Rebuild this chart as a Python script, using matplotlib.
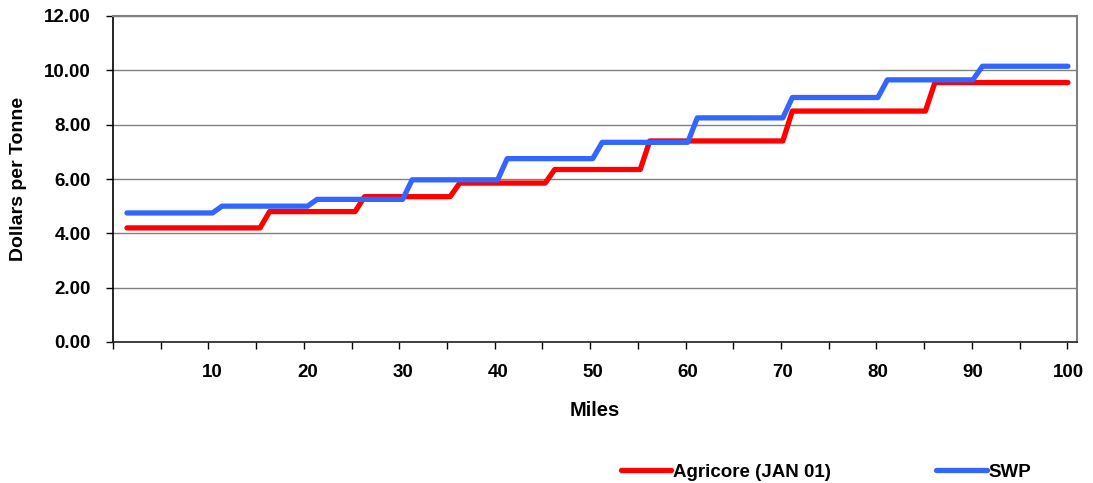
import numpy as np
import matplotlib
matplotlib.use("Agg")
import matplotlib.pyplot as plt
from matplotlib.ticker import FixedLocator

plt.rcParams['font.family'] = ['Liberation Sans', 'DejaVu Sans']
plt.rcParams['font.weight'] = 'bold'

# miles 1..100
miles = list(range(1, 101))

# Agricore (JAN 01) - step levels (rate, number of miles at that rate)
agricore_levels = [4.20, 4.80, 5.35, 5.85, 6.35, 7.40, 8.50, 9.55]
agricore_counts = [15, 10, 10, 10, 10, 15, 15, 15]

# SWP
swp_levels = [4.75, 5.00, 5.25, 5.97, 6.75, 7.35, 8.25, 9.00, 9.65, 10.15]
swp_counts = [10, 10, 10, 10, 10, 10, 10, 10, 10, 10]

agricore = np.repeat(agricore_levels, agricore_counts)
swp = np.repeat(swp_levels, swp_counts)

x_labels = [10, 20, 30, 40, 50, 60, 70, 80, 90, 100]
y_ticks = [0, 2, 4, 6, 8, 10, 12]

fig = plt.figure(figsize=(10.93, 4.83), dpi=100)
ax = fig.add_axes([113 / 1093, 1 - 342 / 483, (1077 - 113) / 1093, (342 - 16) / 483])

ax.plot(miles, agricore, color='#FF0000', lw=3.8, solid_capstyle='round',
        solid_joinstyle='round', label='Agricore (JAN 01)', zorder=3)
ax.plot(miles, swp, color='#3366FF', lw=3.8, solid_capstyle='round',
        solid_joinstyle='round', label='SWP', zorder=3)

ax.set_xlim(-0.47, 100.95)
ax.set_ylim(0, 12)

# y axis
ax.set_yticks(y_ticks)
ax.set_yticklabels([f"{v:.2f}" for v in y_ticks], fontsize=13.5, fontweight='bold')
ax.yaxis.grid(True, color='#808080', lw=1)
ax.tick_params(axis='y', direction='out', length=5, width=1, color='black', pad=11)

# x axis: tick marks every 5 between categories, labels at 10s
ax.xaxis.set_major_locator(FixedLocator(np.arange(-0.47, 100, 5.02)))
ax.xaxis.set_major_formatter(plt.NullFormatter())
ax.xaxis.set_minor_locator(FixedLocator(x_labels))
ax.set_xticklabels([str(v) for v in x_labels], minor=True, fontsize=13.5, fontweight='bold')
ax.tick_params(axis='x', which='major', direction='out', length=5, width=1, color='black')
ax.tick_params(axis='x', which='minor', length=0, pad=16)

for s in ['top', 'right']:
    ax.spines[s].set_color('#808080')
    ax.spines[s].set_linewidth(1.5)
ax.spines['left'].set_color('black')
ax.spines['bottom'].set_color('#202020')
ax.spines['left'].set_linewidth(1.2)
ax.spines['bottom'].set_linewidth(1.2)

ax.set_xlabel('Miles', fontsize=14.5, fontweight='bold', labelpad=14)
ax.set_ylabel('Dollars per Tonne', fontsize=14, fontweight='bold', labelpad=12)

fig.legend(loc='center', bbox_to_anchor=(826 / 1093, 1 - 472 / 483), ncol=2,
           frameon=False, handlelength=2.7, handletextpad=0.1,
           columnspacing=5.6, prop={'weight': 'bold', 'size': 13.5})

fig.savefig('out.png', dpi=100)
